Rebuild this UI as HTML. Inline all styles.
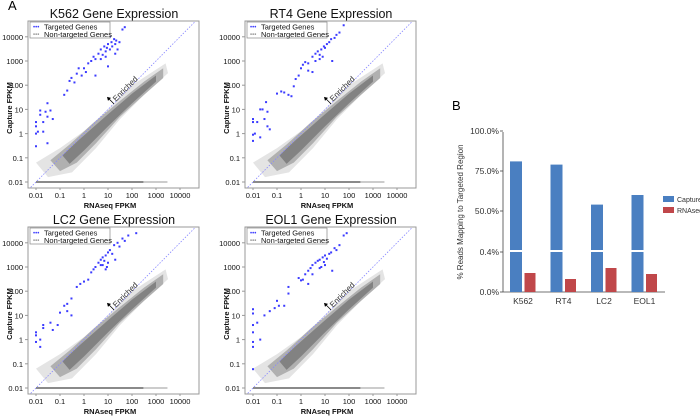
<!DOCTYPE html>
<html><head><meta charset="utf-8"><style>
html,body{margin:0;padding:0;background:#fff;}
svg{display:block;font-family:"Liberation Sans",Arial,sans-serif;}
</style></head><body>
<svg id="fig" width="700" height="416" viewBox="0 0 700 416">
<text x="8" y="10" font-size="13">A</text>
<text x="452" y="110" font-size="13">B</text>
<g id="scatters"></g>
<g id="bars"></g>
</svg>
<script>
// ---- Panel A data (log-scale scatter of targeted genes: [RNAseq FPKM, Capture FPKM]) ----
const panelNames = ["K562","RT4","LC2","EOL1"];
const xTicks = [0.01,0.1,1,10,100,1000,10000];
const xTickLabels = ["0.01","0.1","1","10","100","1000","10000"];
const yTicks = [0.01,0.1,1,10,100,1000,10000];
const yTickLabels = ["0.01","0.1","1","10","100","1000","10000"];
const targetedK562 = [[0.01,1],[0.01,2],[0.01,3],[0.01,0.3],[0.012,1.2],[0.015,6],[0.015,9],[0.02,1.2],[0.02,3],[0.025,8],[0.03,18],[0.03,5],[0.04,9],[0.05,4],[0.03,0.4],[0.15,40],[0.2,60],[0.25,150],[0.3,200],[0.4,130],[0.5,300],[0.6,500],[0.8,250],[1,500],[1.2,350],[1.5,800],[2,1000],[2.5,1500],[3,250],[3,1200],[4,2000],[5,3000],[6,1800],[7,4000],[8,2500],[9,3500],[10,600],[10,5000],[12,3000],[14,6000],[15,4000],[18,8000],[20,5000],[22,7000],[25,3000],[30,6000],[40,20000],[50,25000],[20,2000],[8,1500],[5,1200],[12,10000]];
const targetedRT4 = [[0.01,4],[0.01,3],[0.01,0.5],[0.01,0.9],[0.012,1],[0.015,3],[0.02,10],[0.025,10],[0.03,4],[0.035,20],[0.04,8],[0.04,2],[0.05,1.5],[0.02,0.7],[0.1,45],[0.15,55],[0.2,50],[0.3,40],[0.4,35],[0.5,90],[0.6,180],[0.8,250],[1,500],[1.2,700],[1.5,900],[2,800],[2,400],[3,1500],[3,350],[4,2000],[5,2500],[6,1800],[7,3000],[8,1500],[9,4000],[10,3500],[12,5000],[15,6000],[18,8000],[20,1000],[25,9000],[30,12000],[40,15000],[60,30000],[6,1200],[4,1000]];
const targetedLC2 = [[0.01,2],[0.01,1.5],[0.01,0.8],[0.015,1],[0.015,0.5],[0.02,3],[0.02,4],[0.04,5],[0.05,2.5],[0.08,4],[0.1,13],[0.15,25],[0.2,15],[0.2,30],[0.3,50],[0.3,10],[0.5,150],[0.7,200],[1,250],[1.5,300],[2,600],[2.5,800],[3,1000],[4,1500],[5,2000],[6,1200],[6,2500],[7,1800],[8,3000],[9,1000],[10,4000],[10,1500],[12,5000],[15,3500],[18,8000],[20,2000],[25,10000],[30,7000],[40,15000],[50,12000],[70,20000],[150,25000],[8,800],[5,1200]];
const targetedEOL1 = [[0.01,18],[0.01,12],[0.01,4],[0.01,2],[0.01,0.8],[0.01,0.5],[0.01,0.06],[0.015,5],[0.02,1],[0.03,10],[0.05,15],[0.08,20],[0.1,40],[0.12,25],[0.2,25],[0.3,150],[0.3,80],[0.8,350],[1,280],[1.2,300],[1.5,500],[2,700],[2,200],[2.5,900],[3,1200],[3,500],[4,1500],[5,1800],[6,2000],[7,1000],[8,2500],[9,1600],[10,3000],[12,2200],[15,3500],[18,4000],[20,700],[25,6000],[30,5000],[40,8000],[60,20000],[80,25000],[10,1200],[6,900]];
const targetedSets = [targetedK562,targetedRT4,targetedLC2,targetedEOL1];

// ---- Panel B data ----
const barCategories = ["K562","RT4","LC2","EOL1"];
const captureValues = [81,79,54,60];
const rnaseqValues = [0.19,0.13,0.24,0.18];
const barTickValues = [0,0.4,50,75,100];
const barTickLabels = ["0.0%","0.4%","50.0%","75.0%","100.0%"];

const NS="http://www.w3.org/2000/svg";
function mk(tag,attrs,parent){const e=document.createElementNS(NS,tag);for(const k in attrs)e.setAttribute(k,attrs[k]);parent.appendChild(e);return e;}

const origins=[[0,0],[217,0],[0,206],[217,206]];
const sc=document.getElementById('scatters');
panelNames.forEach((name,i)=>{
  const [ox,oy]=origins[i];
  const g=mk('g',{transform:`translate(${ox},${oy})`},sc);
  
  
  const xs=v=>36+24*(Math.log10(v)+2);
  const ys=v=>182-24.2*(Math.log10(v)+2);
  const t=mk('text',{x:114,y:18,'font-size':12.5,'text-anchor':'middle',fill:'#111'},g);t.textContent=name+' Gene Expression';
  
  const box=mk('rect',{x:28,y:21,width:171,height:167,fill:'#fff',stroke:'#999','stroke-width':1},g);
  
  const P=pts=>pts.map(p=>xs(Math.pow(10,p[0]))+','+ys(Math.pow(10,p[1]))).join(' ');
  const halo=mk('polygon',{points:P([[-2,-1.2],[-1,-0.6],[0,0.1],[1,1],[2,2],[3.4,2.9],[3.5,2.5],[2.5,1.6],[1.5,0.6],[0.5,-0.6],[-0.5,-1.6],[-1.5,-1.8]]),fill:'#e4e4e4'},g);
  
  const mid=mk('polygon',{points:P([[-1.4,-1.1],[-0.6,-0.45],[0.4,0.45],[1.5,1.35],[2.5,2.15],[3.3,2.7],[3.3,2.3],[2.5,1.6],[1.5,0.7],[0.5,-0.4],[-0.3,-1.2],[-1,-1.55]]),fill:'#b0b0b0'},g);
  
  const core=mk('polygon',{points:P([[-0.9,-0.9],[-0.2,-0.25],[1,0.8],[2,1.65],[3,2.4],[3,2.15],[2,1.25],[1,0.3],[0,-0.7],[-0.6,-1.25]]),fill:'#828282'},g);
  
  const band=mk('rect',{x:xs(0.01),y:ys(0.01)-1,width:xs(300)-xs(0.01),height:2,fill:'#8a8a8a'},g);
  
  mk('rect',{x:xs(300),y:ys(0.01)-1,width:xs(3000)-xs(300),height:2,fill:'#ccc'},g);
  const dl=mk('line',{x1:xs(0.006),y1:ys(0.006),x2:xs(40000),y2:ys(40000),stroke:'#8888ff','stroke-width':0.8,'stroke-dasharray':'1.5,1.5'},g);
  
  const ax=xs(10),ay=ys(30);
  const ar=mk('line',{x1:ax+6,y1:ay+6,x2:ax,y2:ay,stroke:'#000','stroke-width':0.8},g);
  
  mk('polygon',{points:`${ax-1},${ay-1} ${ax+3},${ay} ${ax},${ay+3}`,fill:'#000'},g);
  const et=mk('text',{x:ax+8,y:ay+4,'font-size':8,fill:'#333',transform:`rotate(-45 ${ax+8} ${ay+4})`},g);et.textContent='Enriched';
  
  targetedSets[i].forEach(d=>{
    const r=mk('rect',{x:xs(d[0])-1,y:ys(d[1])-1,width:2,height:2,fill:'#3b3bff'},g);
    
    
  });
  xTicks.forEach((v,k)=>{
    mk('line',{x1:xs(v),y1:188,x2:xs(v),y2:190,stroke:'#999'},g);
    const tl=mk('text',{x:xs(v),y:198,'font-size':7.5,'text-anchor':'middle',fill:'#111'},g);tl.textContent=xTickLabels[k];
    
  });
  yTicks.forEach((v,k)=>{
    mk('line',{x1:25,y1:ys(v),x2:28,y2:ys(v),stroke:'#999'},g);
    const tl=mk('text',{x:23,y:ys(v)+3,'font-size':7.5,'text-anchor':'end',fill:'#111'},g);tl.textContent=yTickLabels[k];
    
  });
  const xt=mk('text',{x:110,y:208,'font-size':7.5,'font-weight':'bold','text-anchor':'middle',fill:'#111'},g);xt.textContent='RNAseq FPKM';
  
  const yt=mk('text',{x:0,y:0,'font-size':7.5,'font-weight':'bold','text-anchor':'middle',fill:'#111',transform:'translate(12,108) rotate(-90)'},g);yt.textContent='Capture FPKM';
  
  const lg=mk('g',{},g);
  mk('rect',{x:30,y:22,width:80,height:16,fill:'#fff',stroke:'#888','stroke-width':0.7},lg);
  mk('text',{x:33,y:29,'font-size':6,fill:'#3b3bff'},lg).textContent='•••';
  const l1=mk('text',{x:44,y:29.5,'font-size':7.5,fill:'#111'},lg);l1.textContent='Targeted Genes';
  
  mk('text',{x:33,y:36.5,'font-size':6,fill:'#999'},lg).textContent='•••';
  const l2=mk('text',{x:44,y:37,'font-size':7.5,fill:'#111'},lg);l2.textContent='Non-targeted Genes';
  
});

// ---- Panel B ----
const bg=document.getElementById('bars');
const yB=v=>v<=0.45?292-100*v:211-(v-50)*1.6;
const xB=i=>510+40.5*i;
mk('line',{x1:503,y1:132,x2:503,y2:292,stroke:'#444','stroke-width':0.8},bg);
mk('line',{x1:503,y1:292,x2:665,y2:292,stroke:'#444','stroke-width':0.8},bg);
barTickValues.forEach((v,k)=>{
  mk('line',{x1:500,y1:yB(v),x2:503,y2:yB(v),stroke:'#444','stroke-width':0.8},bg);
  const t=mk('text',{x:499,y:yB(v)+3,'font-size':8.5,'text-anchor':'end',fill:'#333'},bg);t.textContent=barTickLabels[k];
  
});
barCategories.forEach((c,i)=>{
  const cb=mk('rect',{x:xB(i),y:yB(captureValues[i]),width:12,height:292-yB(captureValues[i]),fill:'#4a7fc1'},bg);
  
  mk('rect',{x:xB(i)-1,y:250,width:14,height:2,fill:'#fff'},bg);
  const rb=mk('rect',{x:xB(i)+14.5,y:yB(rnaseqValues[i]),width:11,height:292-yB(rnaseqValues[i]),fill:'#c0474a'},bg);
  
  const t=mk('text',{x:xB(i)+13,y:304,'font-size':8.5,'text-anchor':'middle',fill:'#333'},bg);t.textContent=c;
  
});
const byt=mk('text',{x:0,y:0,'font-size':8,'text-anchor':'middle',fill:'#333',transform:'translate(463,212) rotate(-90)'},bg);byt.textContent='% Reads Mapping to Targeted Region';

const lgB=mk('g',{},bg);
mk('rect',{x:663,y:196,width:11,height:6,fill:'#4a7fc1'},lgB);
const lc=mk('text',{x:677,y:202,'font-size':7,fill:'#333'},lgB);lc.textContent='Capture';

mk('rect',{x:663,y:207,width:11,height:6,fill:'#c0474a'},lgB);
const lr=mk('text',{x:677,y:213,'font-size':7,fill:'#333'},lgB);lr.textContent='RNAseq';

</script>
</body></html>
